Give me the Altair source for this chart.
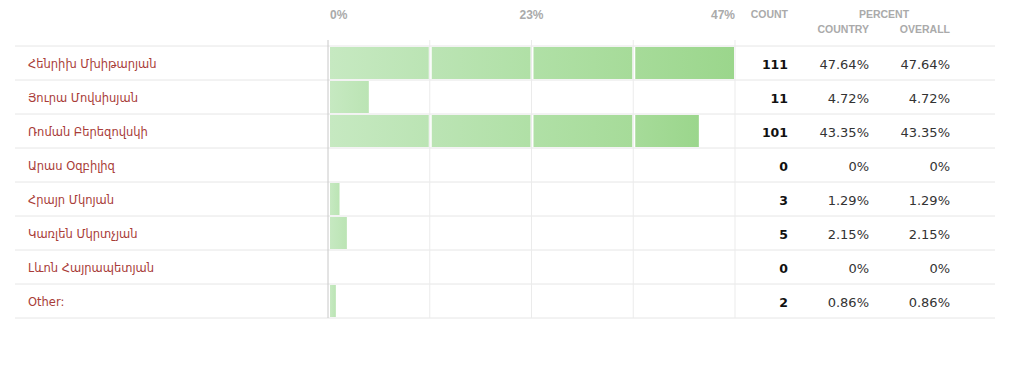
import altair as alt
import pandas as pd

# ---- data ----
names = ["Հենրիխ Մխիթարյան", "Յուրա Մովսիսյան", "Ռոման Բերեզովսկի", "Արաս Օզբիլիզ",
         "Հրայր Մկոյան", "Կառլեն Մկրտչյան", "Լևոն Հայրապետյան", "Other:"]
counts = [111, 11, 101, 0, 3, 5, 0, 2]
country_pct = [47.64, 4.72, 43.35, 0, 1.29, 2.15, 0, 0.86]
overall_pct = [47.64, 4.72, 43.35, 0, 1.29, 2.15, 0, 0.86]
tick_values = [0, 23.82, 47.64]
tick_labels = ["0%", "23%", "47%"]
grid_values = [0, 11.91, 23.82, 35.73, 47.64]
headers_top = ["COUNT", "PERCENT"]
headers_sub = ["COUNTRY", "OVERALL"]

x_max = max(country_pct)

rows = pd.DataFrame({
    "name": names,
    "count": [str(c) for c in counts],
    "country": [f"{v:g}%" for v in country_pct],
    "overall": [f"{v:g}%" for v in overall_pct],
})

# bar segments split at the grid lines
seg_rows = []
for n, v in zip(names, country_pct):
    for k in range(4):
        s, e = grid_values[k], grid_values[k + 1]
        if v > s:
            seg_rows.append({"name": n, "q": k, "start": s, "end": min(v, e),
                             "full": int(v >= e)})
segs = pd.DataFrame(seg_rows)

grid = pd.DataFrame({"v": grid_values, "first": [1, 0, 0, 0, 0]})
ticks = pd.DataFrame({"v": tick_values, "t": tick_labels})

FONT = "DejaVu Sans"
HFONT = "Liberation Sans"

yscale = alt.Scale(domain=names, range=[38, 310], paddingInner=0, paddingOuter=0)
xscale = alt.Scale(domain=[0, x_max], range=[320, 727], nice=False, zero=True)


def Y(pos=0.5):
    return alt.Y("name:N", scale=yscale, axis=None, bandPosition=pos)


def X(field):
    return alt.X(field, scale=xscale, axis=None)


base_rows = alt.Chart(rows)

row_lines_top = base_rows.mark_rule(color="#e6e6e6", strokeWidth=1).encode(
    y=Y(0), x=alt.value(7), x2=alt.value(987))
row_lines_bottom = base_rows.transform_filter(
    alt.datum.name == names[-1]).mark_rule(color="#e6e6e6", strokeWidth=1).encode(
    y=Y(1), x=alt.value(7), x2=alt.value(987))

grid_layer = alt.Chart(grid).mark_rule(strokeWidth=1).encode(
    x=X("v:Q"),
    y=alt.value(32), y2=alt.value(310),
    color=alt.Color("first:N", scale=alt.Scale(domain=[1, 0], range=["#c8c8c8", "#ebebeb"]),
                    legend=None),
)

tick_style = dict(baseline="middle", font=HFONT, fontSize=12, fontWeight="bold",
                  color="#aaaaaa", dy=1)
tick_layers = []
for i, al in enumerate(["left", "center", "right"]):
    tick_layers.append(
        alt.Chart(ticks).transform_filter(alt.datum.t == tick_labels[i])
        .mark_text(align=al, dx=(2 if al == "left" else 0), **tick_style)
        .encode(x=X("v:Q"), y=alt.value(6), text="t:N")
    )


def mix(c0, c1, t):
    a = [int(c0[i:i + 2], 16) for i in (1, 3, 5)]
    b = [int(c1[i:i + 2], 16) for i in (1, 3, 5)]
    return "#" + "".join(f"{round(x + (y - x) * t):02x}" for x, y in zip(a, b))


C0, C1 = "#c6e9c1", "#9bd68c"
bar_layers = []
for k in range(4):
    g = alt.Gradient(gradient="linear",
                     stops=[alt.GradientStop(offset=0, color=mix(C0, C1, k / 4)),
                            alt.GradientStop(offset=1, color=mix(C0, C1, (k + 1) / 4))],
                     x1=0, x2=1, y1=0, y2=0)
    for full, off in ((1, -1), (0, 0.5)):
        bar_layers.append(
            alt.Chart(segs).transform_filter((alt.datum.q == k) & (alt.datum.full == full))
            .mark_bar(color=g, height=32, xOffset=2, x2Offset=off)
            .encode(x=X("start:Q"), x2="end:Q", y=Y(0.5))
        )

name_text = base_rows.mark_text(align="left", baseline="middle", font=FONT,
                                fontSize=11.5, color="#a83c38", dy=1.5).encode(
    y=Y(), x=alt.value(20), text="name:N")
count_text = base_rows.mark_text(align="right", baseline="middle", font=FONT,
                                 fontSize=12.5, fontWeight="bold", color="#111111", dy=1.5).encode(
    y=Y(), x=alt.value(780), text="count:N")
country_text = base_rows.mark_text(align="right", baseline="middle", font=FONT,
                                   fontSize=13, color="#333333", dy=1.5).encode(
    y=Y(), x=alt.value(861), text="country:N")
overall_text = base_rows.mark_text(align="right", baseline="middle", font=FONT,
                                   fontSize=13, color="#333333", dy=1.5).encode(
    y=Y(), x=alt.value(942), text="overall:N")

hdr = dict(baseline="middle", font=HFONT, fontSize=10.5, fontWeight="bold", color="#aaaaaa", dy=1)
h_count = alt.Chart(pd.DataFrame({"t": [headers_top[0]]})).mark_text(align="right", **hdr).encode(
    x=alt.value(780), y=alt.value(6), text="t:N")
h_pct = alt.Chart(pd.DataFrame({"t": [headers_top[1]]})).mark_text(align="center", **hdr).encode(
    x=alt.value(876), y=alt.value(6), text="t:N")
h_country = alt.Chart(pd.DataFrame({"t": [headers_sub[0]]})).mark_text(align="right", **hdr).encode(
    x=alt.value(861), y=alt.value(21), text="t:N")
h_overall = alt.Chart(pd.DataFrame({"t": [headers_sub[1]]})).mark_text(align="right", **hdr).encode(
    x=alt.value(942), y=alt.value(21), text="t:N")

chart = alt.layer(
    row_lines_top, row_lines_bottom, grid_layer, *bar_layers, *tick_layers,
    name_text, count_text, country_text, overall_text,
    h_count, h_pct, h_country, h_overall,
).properties(
    width=1010, height=351, padding=0, autosize=alt.AutoSizeParams(type="none"),
    background="white",
).configure_view(stroke=None)

chart.save("out.html", embed_options={"renderer": "svg", "actions": False})
